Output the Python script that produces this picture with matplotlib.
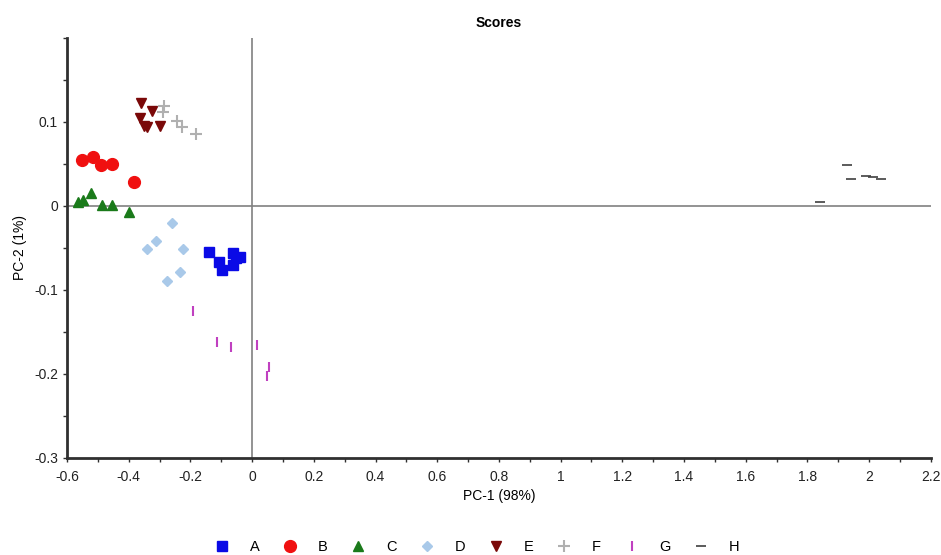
import matplotlib.pyplot as plt
from matplotlib.ticker import MultipleLocator

plt.rcParams['font.family'] = ['Liberation Sans', 'DejaVu Sans']

# PCA scores
a_x = [-0.140, -0.107, -0.096, -0.063, -0.039, -0.061, -0.052]
a_y = [-0.055, -0.067, -0.077, -0.056, -0.061, -0.070, -0.062]
b_x = [-0.550, -0.515, -0.490, -0.453, -0.383]
b_y = [0.055, 0.058, 0.048, 0.050, 0.028]
c_x = [-0.565, -0.547, -0.522, -0.488, -0.453, -0.398]
c_y = [0.005, 0.007, 0.015, 0.001, 0.001, -0.007]
d_x = [-0.261, -0.312, -0.340, -0.223, -0.234, -0.275]
d_y = [-0.020, -0.042, -0.052, -0.052, -0.079, -0.089]
e_x = [-0.361, -0.326, -0.363, -0.340, -0.350, -0.299]
e_y = [0.122, 0.113, 0.104, 0.094, 0.095, 0.095]
f_x = [-0.286, -0.288, -0.243, -0.228, -0.182]
f_y = [0.119, 0.112, 0.101, 0.094, 0.085]
g_x = [-0.191, -0.115, -0.070, 0.015, 0.056, 0.048]
g_y = [-0.125, -0.162, -0.168, -0.166, -0.192, -0.202]
h_x = [1.927, 1.941, 1.991, 2.013, 2.037, 1.842]
h_y = [0.048, 0.032, 0.036, 0.034, 0.032, 0.004]

groups = ['A', 'B', 'C', 'D', 'E', 'F', 'G', 'H']
xs = [a_x, b_x, c_x, d_x, e_x, f_x, g_x, h_x]
ys = [a_y, b_y, c_y, d_y, e_y, f_y, g_y, h_y]
markers = ['s', 'o', '^', 'D', 'v', '+', '|', '_']
colors = ['#0a0ae6', '#f01010', '#1a7a1a', '#a9c9e9', '#7a0808', '#b0b0b0', '#c040c0', '#404040']
sizes = [7.5, 8.5, 7.5, 5.5, 7.5, 8, 7, 7]
widths = [1, 1, 1, 1, 1, 1.5, 1.5, 1.2]

fig = plt.figure(figsize=(9.41, 5.55), dpi=100)
ax = fig.add_axes([0.0712, 0.175, 0.918, 0.757])

ax.axhline(0, color='#808080', lw=1.2, zorder=1)
ax.axvline(0, color='#808080', lw=1.2, zorder=1)

for g, x, y, m, c, s, w in zip(groups, xs, ys, markers, colors, sizes, widths):
    ax.plot(x, y, ls='none', marker=m, color=c, markersize=s, mew=w, label=g, zorder=3)

ax.set_xlim(-0.6, 2.2)
ax.set_ylim(-0.3, 0.2)
ax.xaxis.set_minor_locator(MultipleLocator(0.1))
ax.yaxis.set_minor_locator(MultipleLocator(0.05))
ax.set_xticks([-0.6, -0.4, -0.2, 0, 0.2, 0.4, 0.6, 0.8, 1, 1.2, 1.4, 1.6, 1.8, 2, 2.2])
ax.set_xticklabels(['-0.6', '-0.4', '-0.2', '0', '0.2', '0.4', '0.6', '0.8', '1', '1.2',
                    '1.4', '1.6', '1.8', '2', '2.2'])
ax.set_yticks([-0.3, -0.2, -0.1, 0, 0.1])
ax.set_yticklabels(['-0.3', '-0.2', '-0.1', '0', '0.1'])
ax.tick_params(which='both', direction='out', length=3, width=1, colors='#303030',
               labelsize=10, labelcolor='#222222')
ax.tick_params(axis='x', which='major', pad=6)

for sp in ['top', 'right']:
    ax.spines[sp].set_visible(False)
for sp in ['left', 'bottom']:
    ax.spines[sp].set_linewidth(2)
    ax.spines[sp].set_color('#303030')

ax.set_title('Scores', fontsize=10, fontweight='bold', pad=8)
ax.set_xlabel('PC-1 (98%)', fontsize=10, labelpad=3)
ax.set_ylabel('PC-2 (1%)', fontsize=10, labelpad=5)

ax.legend(loc='upper center', bbox_to_anchor=(0.474, -0.165), ncol=8, frameon=False,
          fontsize=10.5, handletextpad=1.3, columnspacing=1.5, handlelength=1.2)

fig.savefig('out.png', dpi=100)
